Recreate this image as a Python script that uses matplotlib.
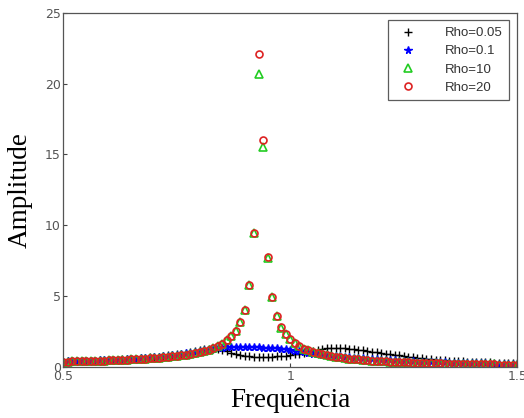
import numpy as np
import matplotlib
matplotlib.use('Agg')
import matplotlib.pyplot as plt

# frequency grid 0.5:0.01:1.5
freq = np.linspace(0.5, 1.5, 101)

amp_rho005 = [
    0.41, 0.42, 0.43, 0.44, 0.45, 0.46, 0.47, 0.48, 0.49, 0.50,
    0.52, 0.53, 0.55, 0.57, 0.58, 0.60, 0.62, 0.65, 0.67, 0.70,
    0.73, 0.76, 0.80, 0.84, 0.88, 0.93, 0.98, 1.04, 1.10, 1.16,
    1.22, 1.27, 1.31, 1.33, 1.32, 1.26, 1.15, 1.02, 0.92, 0.85,
    0.80, 0.77, 0.75, 0.74, 0.74, 0.75, 0.76, 0.78, 0.80, 0.83,
    0.87, 0.92, 0.98, 1.05, 1.12, 1.19, 1.25, 1.30, 1.34, 1.37,
    1.38, 1.37, 1.35, 1.32, 1.28, 1.24, 1.20, 1.16, 1.12, 1.07,
    1.02, 0.97, 0.92, 0.88, 0.84, 0.80, 0.76, 0.72, 0.68, 0.64,
    0.60, 0.57, 0.54, 0.51, 0.49, 0.47, 0.45, 0.43, 0.42, 0.40,
    0.39, 0.38, 0.37, 0.36, 0.35, 0.34, 0.33, 0.32, 0.31, 0.30,
    0.30,
]

amp_rho01 = [
    0.41, 0.42, 0.43, 0.44, 0.45, 0.46, 0.47, 0.48, 0.49, 0.50,
    0.51, 0.52, 0.54, 0.55, 0.57, 0.59, 0.61, 0.63, 0.66, 0.68,
    0.71, 0.74, 0.77, 0.81, 0.85, 0.89, 0.94, 0.99, 1.04, 1.09,
    1.14, 1.20, 1.25, 1.30, 1.35, 1.39, 1.42, 1.44, 1.45, 1.45,
    1.45, 1.44, 1.43, 1.42, 1.40, 1.39, 1.37, 1.35, 1.32, 1.28,
    1.23, 1.18, 1.13, 1.08, 1.03, 0.98, 0.94, 0.90, 0.86, 0.83,
    0.80, 0.77, 0.74, 0.71, 0.69, 0.66, 0.64, 0.62, 0.59, 0.57,
    0.55, 0.53, 0.51, 0.49, 0.47, 0.46, 0.44, 0.43, 0.41, 0.40,
    0.39, 0.38, 0.37, 0.36, 0.35, 0.34, 0.33, 0.32, 0.31, 0.30,
    0.30, 0.29, 0.28, 0.28, 0.27, 0.27, 0.26, 0.26, 0.25, 0.25,
    0.24,
]

amp_rho10 = [
    0.40, 0.41, 0.42, 0.43, 0.43, 0.44, 0.45, 0.46, 0.47, 0.48,
    0.49, 0.50, 0.52, 0.53, 0.55, 0.56, 0.58, 0.60, 0.62, 0.64,
    0.66, 0.68, 0.71, 0.74, 0.77, 0.81, 0.85, 0.90, 0.95, 1.01,
    1.08, 1.16, 1.25, 1.36, 1.50, 1.67, 1.90, 2.18, 2.60, 3.17,
    4.05, 5.80, 9.45, 20.7, 15.5, 7.70, 4.96, 3.61, 2.81, 2.35,
    1.98, 1.70, 1.49, 1.33, 1.20, 1.09, 1.00, 0.92, 0.85, 0.79,
    0.74, 0.70, 0.66, 0.62, 0.59, 0.56, 0.53, 0.51, 0.48, 0.46,
    0.44, 0.43, 0.41, 0.39, 0.38, 0.36, 0.35, 0.34, 0.33, 0.32,
    0.31, 0.30, 0.29, 0.28, 0.27, 0.26, 0.26, 0.25, 0.24, 0.24,
    0.23, 0.23, 0.22, 0.22, 0.21, 0.21, 0.20, 0.20, 0.19, 0.19,
    0.18,
]

amp_rho20 = [
    0.40, 0.41, 0.42, 0.43, 0.43, 0.44, 0.45, 0.46, 0.47, 0.48,
    0.49, 0.50, 0.52, 0.53, 0.55, 0.56, 0.58, 0.60, 0.62, 0.64,
    0.66, 0.68, 0.71, 0.74, 0.77, 0.81, 0.85, 0.90, 0.95, 1.01,
    1.08, 1.16, 1.25, 1.36, 1.50, 1.67, 1.90, 2.18, 2.60, 3.17,
    4.05, 5.80, 9.50, 22.1, 16.0, 7.75, 4.98, 3.62, 2.82, 2.35,
    1.98, 1.70, 1.49, 1.33, 1.20, 1.09, 1.00, 0.92, 0.85, 0.79,
    0.74, 0.70, 0.66, 0.62, 0.59, 0.56, 0.53, 0.51, 0.48, 0.46,
    0.44, 0.43, 0.41, 0.39, 0.38, 0.36, 0.35, 0.34, 0.33, 0.32,
    0.31, 0.30, 0.29, 0.28, 0.27, 0.26, 0.26, 0.25, 0.24, 0.24,
    0.23, 0.23, 0.22, 0.22, 0.21, 0.21, 0.20, 0.20, 0.19, 0.19,
    0.18,
]

# data, marker, colour, marker size, label
series = [
    (amp_rho005, '+', 'k', 5.5, 'Rho=0.05'),
    (amp_rho01, '*', 'b', 5.5, 'Rho=0.1'),
    (amp_rho10, '^', '#22cc22', 6.3, 'Rho=10'),
    (amp_rho20, 'o', '#dd2222', 5, 'Rho=20'),
]

fig = plt.figure(figsize=(5.24, 4.18), dpi=100)
ax = fig.add_axes([0.121, 0.121, 0.866, 0.849])

for amp, marker, color, ms, label in series:
    if marker in '+*':
        ax.plot(freq, amp, linestyle='none', marker=marker, color=color,
                markersize=ms, markeredgewidth=1.0, label=label)
    else:
        ax.plot(freq, amp, linestyle='none', marker=marker, markersize=ms,
                markerfacecolor='none', markeredgecolor=color,
                markeredgewidth=1.2, label=label)

ax.set_xlim(0.5, 1.5)
ax.set_ylim(0, 25)
ax.set_xticks([0.5, 1, 1.5])
ax.set_xticklabels(['0.5', '1', '1.5'])
ax.set_yticks([0, 5, 10, 15, 20, 25])
ax.tick_params(direction='in', length=3, width=0.8, labelsize=9,
               colors='#444444', labelcolor='#555555', pad=2)
for s in ax.spines.values():
    s.set_color('#555555')
    s.set_linewidth(0.9)

ax.set_xlabel('Frequência', family='Liberation Serif', fontsize=19.5, labelpad=3)
ax.set_ylabel('Amplitude', family='Liberation Serif', fontsize=19.5, labelpad=9)

leg = ax.legend(loc='upper right', frameon=True, fancybox=False,
                edgecolor='#333333', borderpad=0.5, handletextpad=1.8,
                labelspacing=0.45, borderaxespad=0.6,
                prop={'family': 'Liberation Sans', 'size': 9.5})
leg.get_frame().set_linewidth(0.9)
for t in leg.get_texts():
    t.set_color('#333333')

fig.savefig('out.png', dpi=100)
